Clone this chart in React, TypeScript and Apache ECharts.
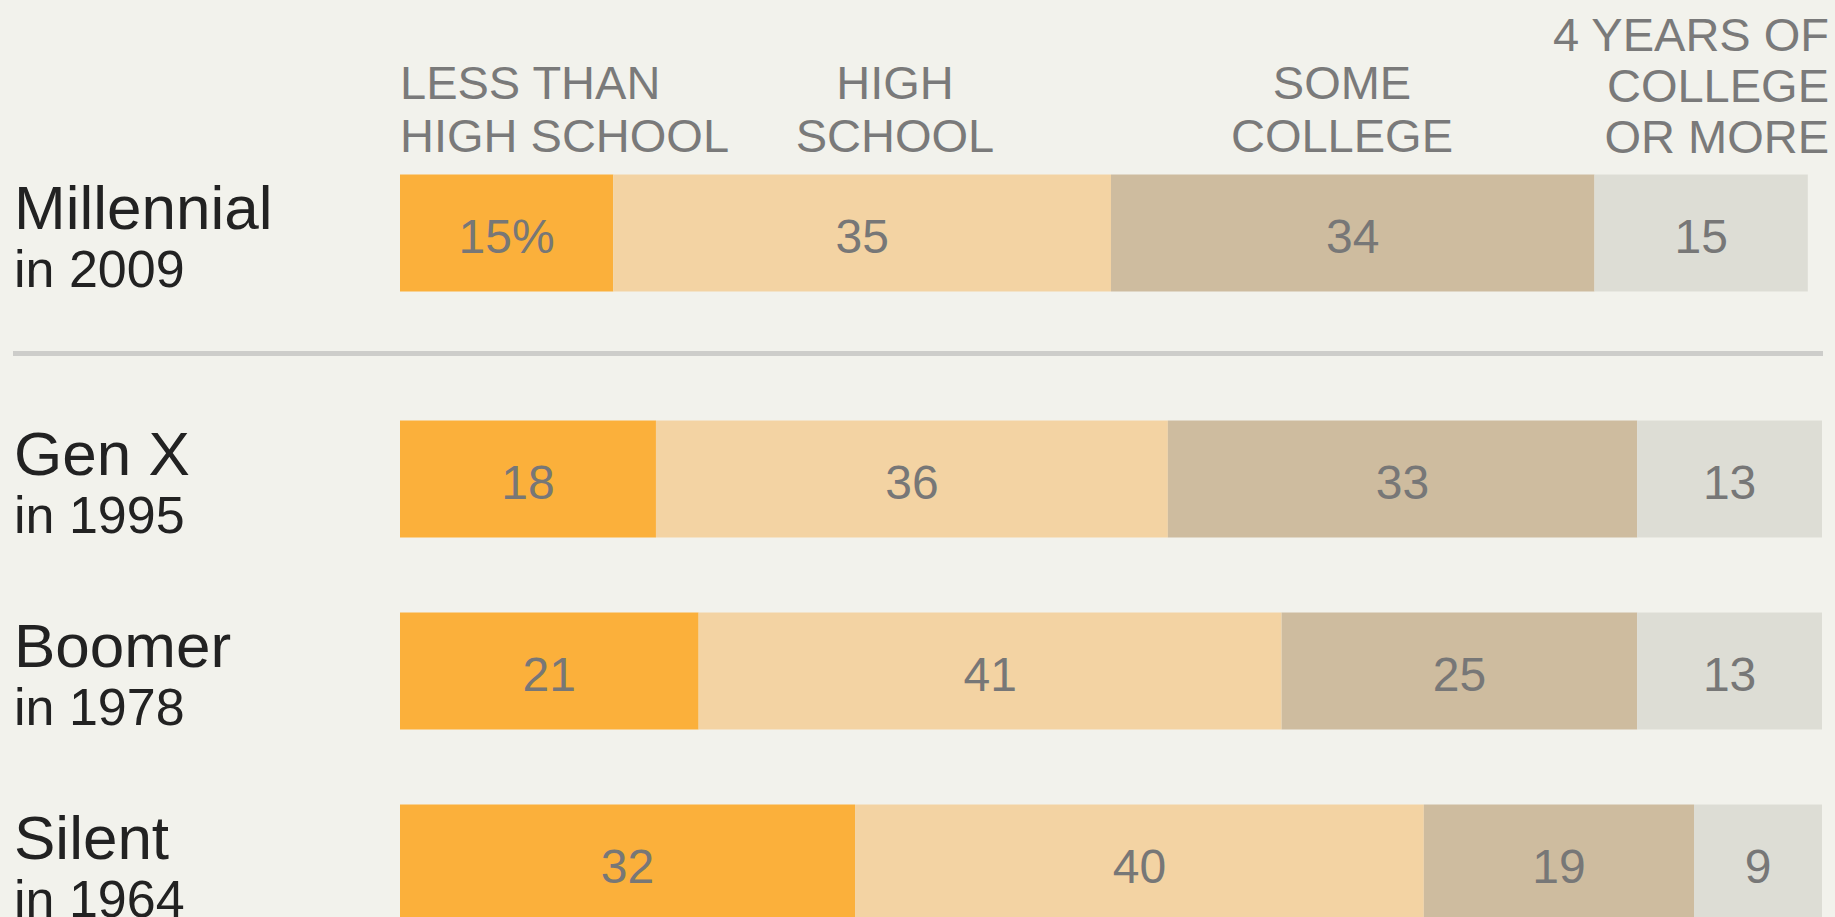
import React, { useEffect, useRef } from "react";
import * as echarts from "echarts";

const generations = ["Millennial", "Gen X", "Boomer", "Silent"];
const years = ["2009", "1995", "1978", "1964"];
const levels = ["Less than high school", "High school", "Some college", "4 years of college or more"];
const lessThanHighSchool = [15, 18, 21, 32];
const highSchool = [35, 36, 41, 40];
const someCollege = [34, 33, 25, 19];
const fourYearsOrMore = [15, 13, 13, 9];
const headerTexts = ["LESS THAN\nHIGH SCHOOL", "HIGH\nSCHOOL", "SOME\nCOLLEGE", "4 YEARS OF\nCOLLEGE\nOR MORE"];

const levelValues = [lessThanHighSchool, highSchool, someCollege, fourYearsOrMore];
const levelColors = ["#FBB03B", "#F3D3A3", "#CEBC9F", "#DDDDD5"];
const FONT = "'Liberation Sans', Arial, Helvetica, sans-serif";

export default function App() {
  const ref = useRef<HTMLDivElement>(null);

  useEffect(() => {
    if (!ref.current) return;
    const chart = echarts.init(ref.current, undefined, { renderer: "svg" });

    const topCats = generations.slice(0, 1);
    const bottomCats = generations.slice(1);

    const yLabel = {
      align: "left" as const,
      margin: 386,
      formatter: (value: string) => {
        const yr = years[generations.indexOf(value)];
        return `{a|${value}}\n{b|in ${yr}}`;
      },
      rich: {
        a: { fontSize: 62, lineHeight: 72, color: "#222", fontFamily: FONT, align: "left" },
        b: { fontSize: 52, lineHeight: 51, color: "#222", fontFamily: FONT, align: "left" },
      },
    };

    const series: any[] = [];
    levelValues.forEach((vals, li) => {
      [0, 1].forEach((g) => {
        const data = g === 0 ? vals.slice(0, 1) : vals.slice(1);
        series.push({
          type: "bar",
          name: levels[li],
          xAxisIndex: g,
          yAxisIndex: g,
          stack: "edu" + g,
          barWidth: 117,
          data,
          itemStyle: { color: levelColors[li] },
          label: {
            show: true,
            position: "inside",
            offset: [0, 3],
            color: "#777",
            fontSize: 48,
            fontFamily: FONT,
            formatter: (p: any) => (g === 0 && li === 0 && p.dataIndex === 0 ? `${p.value}%` : `${p.value}`),
          },
        });
      });
    });

    const headerStyle = { fill: "#7a7a7a", fontSize: 47, fontFamily: FONT, lineHeight: 53, textVerticalAlign: "top" };

    chart.setOption({
      animation: false,
      backgroundColor: "#F2F2EC",
      grid: [
        { left: 400, width: 1422, top: 137, height: 192 },
        { left: 400, width: 1422, top: 383, height: 576 },
      ],
      xAxis: [0, 1].map((i) => ({
        type: "value",
        gridIndex: i,
        min: 0,
        max: 100,
        show: false,
      })),
      yAxis: [
        {
          type: "category",
          gridIndex: 0,
          data: topCats,
          axisLine: { show: false },
          axisTick: { show: false },
          axisLabel: yLabel,
        },
        {
          type: "category",
          gridIndex: 1,
          inverse: true,
          data: bottomCats,
          axisLine: { show: false },
          axisTick: { show: false },
          axisLabel: yLabel,
        },
      ],
      series,
      graphic: [
        { type: "text", x: 400, y: 56, style: { ...headerStyle, text: headerTexts[0], textAlign: "left" } },
        { type: "text", x: 895, y: 56, style: { ...headerStyle, text: headerTexts[1], textAlign: "center" } },
        { type: "text", x: 1342, y: 56, style: { ...headerStyle, text: headerTexts[2], textAlign: "center" } },
        { type: "text", x: 1829, y: 9, style: { ...headerStyle, lineHeight: 51, text: headerTexts[3], textAlign: "right" } },
        {
          type: "line",
          shape: { x1: 13, y1: 353.5, x2: 1823, y2: 353.5 },
          style: { stroke: "#CDCDCA", lineWidth: 5 },
        },
      ],
    });

    return () => chart.dispose();
  }, []);

  return (
    <div style={{ position: "fixed", left: 0, top: 0, width: 1835, height: 917, overflow: "hidden", background: "#F2F2EC" }}>
      <div ref={ref} style={{ width: 1835, height: 960 }} />
    </div>
  );
}
